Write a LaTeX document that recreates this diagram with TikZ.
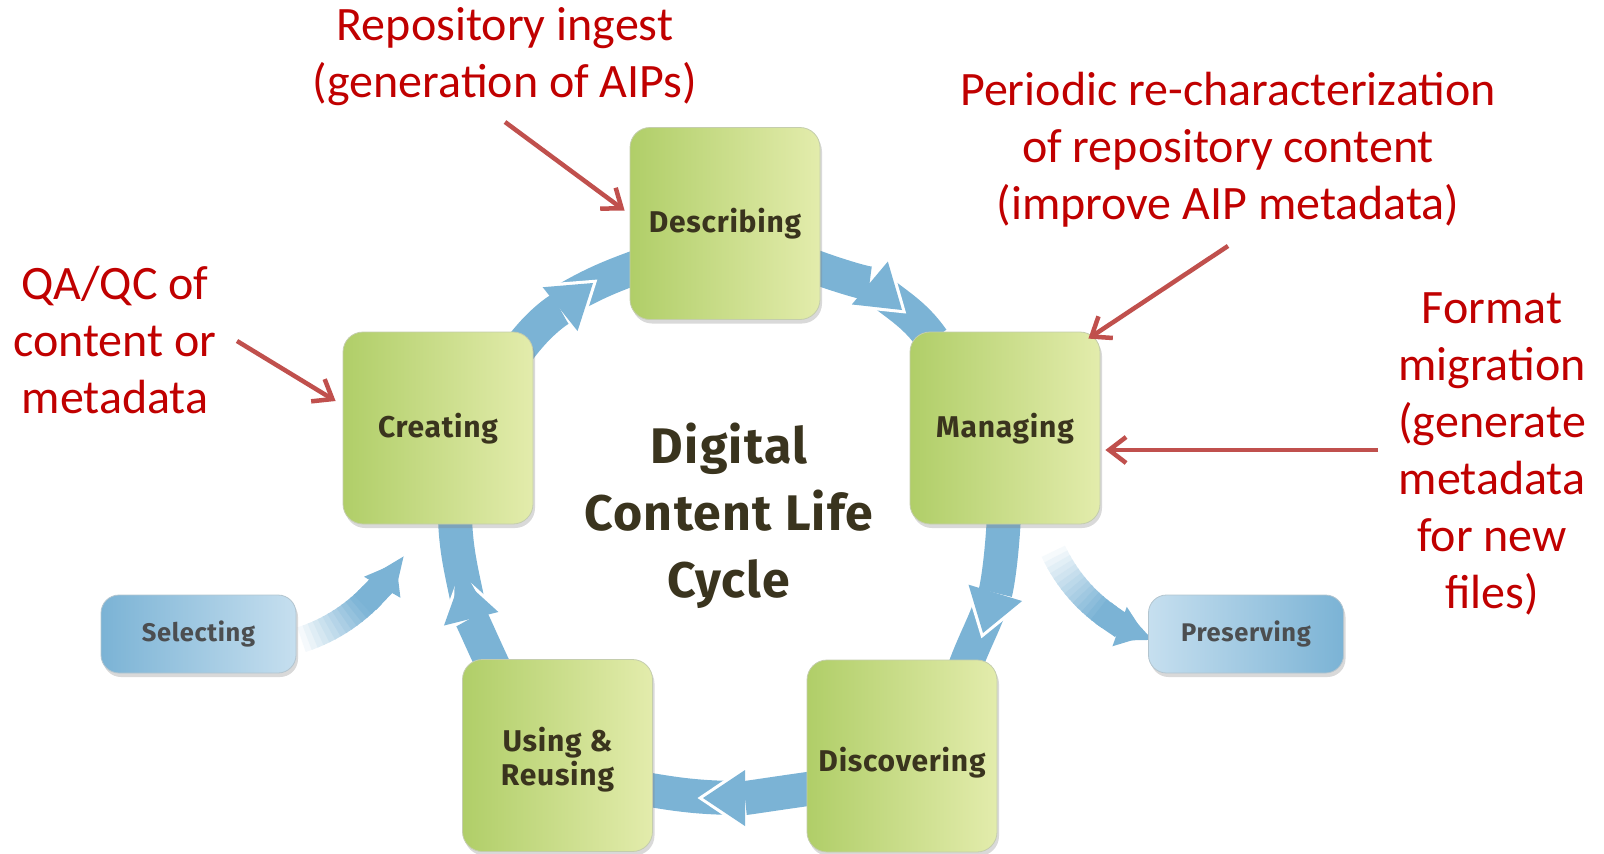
\documentclass[tikz,border=0pt]{standalone}
\usepackage{fontspec}
\setmainfont{Carlito}
\newfontfamily\cyclefont{Fira Sans}[LetterSpace=2.5]
\usetikzlibrary{%
	calc,%
	arrows.meta,%
	shadows,%
	backgrounds%
}
\definecolor{notered}{RGB}{192,0,0}
\definecolor{arrowred}{RGB}{192,80,77}
\definecolor{bandblue}{RGB}{123,179,213}
\definecolor{paleblue}{RGB}{198,223,239}
\definecolor{leafgreen}{RGB}{176,206,104}
\definecolor{palegreen}{RGB}{227,236,172}
\definecolor{boxtext}{RGB}{58,52,30}
\definecolor{tagtext}{RGB}{76,78,80}

\tikzset{
	lifebox/.style={rounded corners=20pt,minimum width=190pt,minimum height=192pt,
		left color=leafgreen,right color=palegreen,draw=leafgreen!70!black!45,line width=.8pt,
		drop shadow={shadow xshift=2pt,shadow yshift=-4pt,opacity=.3},
		text=boxtext,align=center,font=\cyclefont\bfseries\fontsize{30}{34}\selectfont},
	tagbox/.style={rounded corners=18pt,minimum width=195pt,minimum height=78pt,
		draw=bandblue!70!black!45,line width=.8pt,
		drop shadow={shadow xshift=2pt,shadow yshift=-4pt,opacity=.3},
		text=tagtext,font=\cyclefont\bfseries\fontsize{25.5}{30}\selectfont},
	cycletitle/.style={text=boxtext,align=center,font=\cyclefont\bfseries\fontsize{50}{67}\selectfont},
	annot/.style={text=notered,align=center,inner sep=0pt,font=\fontsize{48}{57}\selectfont},
	pointer/.style={draw=arrowred,line width=4.5pt,-{Straight Barb[length=17pt,width=26pt]}},
	band/.style={draw=bandblue,line width=34pt},
	bandhead/.style={band,-{Triangle[width=56pt,length=42pt,line width=0pt]}},
	bandrim/.style={draw=white,line width=1pt,-{Triangle[width=66pt,length=49pt,line width=0pt]}}
}

\begin{document}
\begin{tikzpicture}[x=1pt,y=1pt]
	\useasboundingbox (0,0) rectangle (1604,-854);
	% stages of the cycle
	\node[lifebox] (describing) at (725,-223.5) {\rule{0pt}{25pt}Describing};
	\node[lifebox] (creating) at (438,-428) {\rule{0pt}{26pt}Creating};
	\node[lifebox] (managing) at (1005,-428) {\rule{0pt}{26pt}Managing};
	\node[lifebox] (discovering) at (902,-756) {\rule{0pt}{38pt}Discovering};
	\node[lifebox] (using) at (557.5,-755.5) {\rule{0pt}{32pt}Using \&\\Reusing};
	\node[tagbox,left color=bandblue,right color=paleblue] (selecting) at (198.5,-634) {Selecting};
	\node[tagbox,left color=paleblue,right color=bandblue] (preserving) at (1246,-634) {Preserving};
	\node[cycletitle] (cycle) at (729,-516) {Digital\\Content Life\\Cycle};
	% notes
	\node[annot] (ingest) at (505,-57) {Repository ingest\\(generation of AIPs)};
	\node[annot] (recharacterize) at (1228,-150) {Periodic re-characterization\\of repository content\\(improve AIP metadata)};
	\node[annot] (qaqc) at (115,-340) {QA/QC of\\content or\\metadata};
	\node[annot] (migration) at (1492,-454) {Format\\migration\\(generate\\metadata\\for new\\files)};
	\coordinate (ingestfoot) at (505,-122);
	\coordinate (recharfoot) at (1228,-246);
	\coordinate (qaqcfoot) at (237,-341);
	\coordinate (migrationfoot) at (1378,-450);
	\draw[pointer] (ingestfoot) -- ([shift={(-5,13)}]describing.west);
	\draw[pointer] (recharfoot) -- ([shift={(-12,-7)}]managing.north east);
	\draw[pointer] (qaqcfoot) -- ([shift={(-7,27)}]creating.west);
	\draw[pointer] (migrationfoot) -- ([shift={(5,-22)}]managing.east);

	\begin{scope}[on background layer]
		% heads of the ring
		\coordinate (h1) at (593,-283); \coordinate (t1) at (565,-300);
		\coordinate (h2) at (902,-310); \coordinate (t2) at (870,-283);
		\coordinate (h3) at (983,-633); \coordinate (t3) at (995,-593);
		\coordinate (h4) at (703,-798); \coordinate (t4) at (745,-798);
		\coordinate (h5) at (461,-578); \coordinate (t5) at (471,-619);
		% creating to describing
		\draw[band] (t1) to[out=30,in=200] ([shift={(10,-42.5)}]describing.west);
		\draw[bandrim] ([shift={(-18,-23)}]creating.north east) to[out=55,in=218.5] ($(h1)+(38.5:5.5)$);
		\draw[bandhead] ([shift={(-18,-23)}]creating.north east) to[out=55,in=218.5] (h1);
		% describing to managing
		\draw[band] (t2) to[out=-40,in=125] ([shift={(23,-8)}]managing.north west);
		\draw[bandrim] ([shift={(-8,-42.5)}]describing.east) to[out=-20,in=140] ($(h2)+(-40:5.5)$);
		\draw[bandhead] ([shift={(-8,-42.5)}]describing.east) to[out=-20,in=140] (h2);
		% managing to discovering
		\draw[band] (t3) to[out=-108,in=70] ([shift={(62,-10)}]discovering.north);
		\draw[bandrim] ([shift={(-1,9)}]managing.south) to[out=-93,in=73] ($(h3)+(-107:5.5)$);
		\draw[bandhead] ([shift={(-1,9)}]managing.south) to[out=-93,in=73] (h3);
		% discovering to using
		\draw[band] (t4) to[out=180,in=-10] ([shift={(-8,-33.5)}]using.east);
		\draw[bandrim] ([shift={(8,-32)}]discovering.west) to[out=188,in=0] ($(h4)+(180:5.5)$);
		\draw[bandhead] ([shift={(8,-32)}]discovering.west) to[out=188,in=0] (h4);
		% using to creating
		\draw[band] (t5) to[out=100,in=-88] ([shift={(17,6)}]creating.south);
		\draw[bandrim] ([shift={(-63.5,-8.5)}]using.north) to[out=115,in=-76] ($(h5)+(104:5.5)$);
		\draw[bandhead] ([shift={(-63.5,-8.5)}]using.north) to[out=115,in=-76] (h5);
		% selecting and preserving, fading in
		\coordinate (selpivot) at (249,-478);
		\foreach \a in {-74,-72,...,-46} {
			\pgfmathsetmacro\p{min(100,(\a+74)*4)}
			\draw[line width=26pt,bandblue!\p!white] (selpivot) ++(\a:170) arc[start angle=\a,end angle=\a+2.6,radius=170pt];
		}
		\draw[line width=26pt,bandblue,-{Triangle[width=42pt,length=28pt,line width=0pt]}] (selpivot) ++(-46:170) arc[start angle=-46,end angle=-30,radius=170pt];
		\coordinate (prepivot) at (1202,-482);
		\foreach \a in {-157,-155,...,-127} {
			\pgfmathsetmacro\p{min(100,(\a+157)*3.6)}
			\draw[line width=26pt,bandblue!\p!white] (prepivot) ++(\a:164) arc[start angle=\a,end angle=\a+2.6,radius=164pt];
		}
		\draw[line width=26pt,bandblue,-{Triangle[width=42pt,length=28pt,line width=0pt]}] (prepivot) ++(-127:164) arc[start angle=-127,end angle=-110,radius=164pt];
	\end{scope}
\end{tikzpicture}
\end{document}
